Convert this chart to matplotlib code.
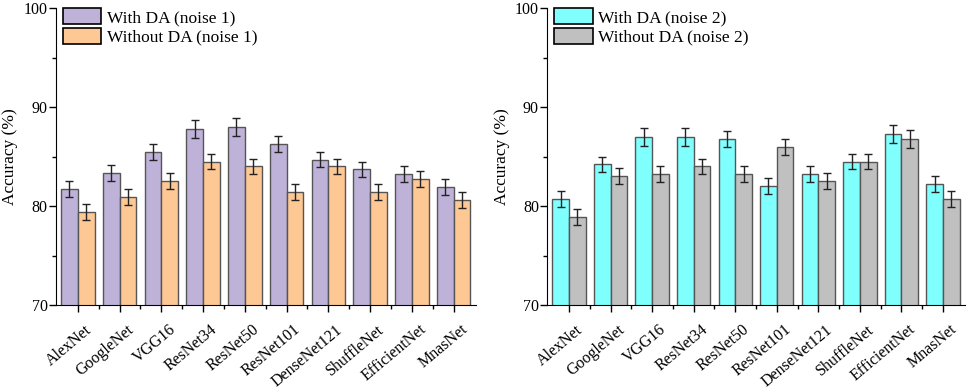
import numpy as np
import matplotlib.pyplot as plt
from matplotlib.ticker import MultipleLocator
from matplotlib.transforms import ScaledTranslation

plt.rcParams['font.family'] = ['Liberation Serif', 'DejaVu Serif']

models = ['AlexNet', 'GoogleNet', 'VGG16', 'ResNet34', 'ResNet50',
          'ResNet101', 'DenseNet121', 'ShuffleNet', 'EfficientNet', 'MnasNet']

# noise 1
with_da_1 = [81.7, 83.3, 85.5, 87.8, 88.0, 86.3, 84.7, 83.7, 83.2, 81.9]
without_da_1 = [79.4, 80.9, 82.5, 84.5, 84.0, 81.4, 84.0, 81.4, 82.7, 80.6]
# noise 2
with_da_2 = [80.7, 84.2, 87.0, 87.0, 86.8, 82.0, 83.2, 84.5, 87.3, 82.2]
without_da_2 = [78.9, 83.0, 83.2, 84.0, 83.2, 86.0, 82.5, 84.5, 86.8, 80.7]

err_with_1 = [0.8, 0.8, 0.8, 0.9, 0.9, 0.8, 0.8, 0.8, 0.8, 0.8]
err_without_1 = [0.8, 0.8, 0.8, 0.8, 0.8, 0.8, 0.8, 0.8, 0.8, 0.8]
err_with_2 = [0.8, 0.8, 0.9, 0.9, 0.8, 0.8, 0.8, 0.8, 0.9, 0.8]
err_without_2 = [0.8, 0.8, 0.8, 0.8, 0.8, 0.8, 0.8, 0.8, 0.9, 0.8]

fig = plt.figure(figsize=(9.67, 3.89), dpi=100)
ax1 = fig.add_axes([0.058, 0.216, 0.434, 0.763])
ax2 = fig.add_axes([0.566, 0.216, 0.432, 0.763])

x = np.arange(len(models))
w = 0.4
edge = '#555555'
# rotated category labels sit a little right of / below the tick
shift = ScaledTranslation(0.07, -12 / 72, fig.dpi_scale_trans)


def draw(ax, a, b, ea, eb, ca, cb, la, lb):
    ekw = dict(ecolor='#222222', elinewidth=1.0, capthick=1.0)
    ax.bar(x - w / 2, a, w, color=ca, edgecolor=edge, linewidth=1.0, label=la,
           yerr=ea, capsize=3, error_kw=ekw)
    ax.bar(x + w / 2, b, w, color=cb, edgecolor=edge, linewidth=1.0, label=lb,
           yerr=eb, capsize=3, error_kw=ekw)
    ax.set_ylim(70, 100)
    ax.set_xlim(-0.52, 9.53)
    ax.yaxis.set_major_locator(MultipleLocator(10))
    ax.yaxis.set_minor_locator(MultipleLocator(5))
    ax.set_xticks(x)
    ax.set_xticks(x[:-1] + 0.5, minor=True)
    ax.set_xticklabels([])
    for xi, name in zip(x, models):
        ax.text(xi, 0, name, rotation=40, ha='right', va='top', rotation_mode='anchor',
                fontsize=11.5, transform=ax.get_xaxis_transform() + shift)
    ax.tick_params(axis='both', which='major', direction='out', length=5, width=1, labelsize=11.5)
    ax.tick_params(axis='both', which='minor', direction='out', length=3, width=1)
    ax.tick_params(axis='y', pad=1)
    ax.spines['top'].set_visible(False)
    ax.spines['right'].set_visible(False)
    ax.set_ylabel('Accuracy (%)', fontsize=12.5)
    ax.yaxis.set_label_coords(-0.09, 0.5)
    ax.legend(loc='upper left', bbox_to_anchor=(0.017, 1.0), frameon=False, fontsize=12.5,
              handlelength=2.2, handleheight=1.05, labelspacing=0.1, handletextpad=0.3,
              borderaxespad=0, borderpad=0)


draw(ax1, with_da_1, without_da_1, err_with_1, err_without_1,
     '#BFB2D8', '#FDC894', 'With DA (noise 1)', 'Without DA (noise 1)')
draw(ax2, with_da_2, without_da_2, err_with_2, err_without_2,
     '#80FFFF', '#C0C0C0', 'With DA (noise 2)', 'Without DA (noise 2)')

for lh in ax1.get_legend().legend_handles + ax2.get_legend().legend_handles:
    lh.set_edgecolor('black')
    lh.set_linewidth(1.2)

fig.savefig('out.png', dpi=100)
